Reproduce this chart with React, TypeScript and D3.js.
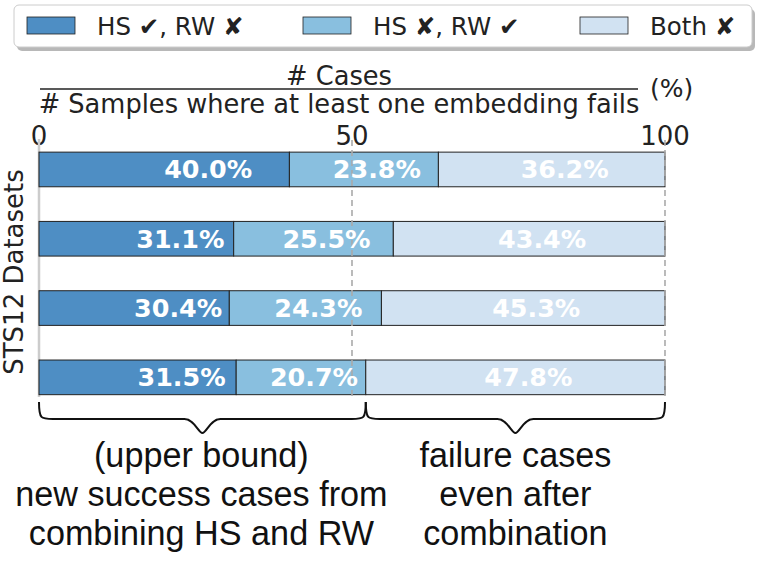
import React from "react";
import * as d3 from "d3";

const rows = ["r1", "r2", "r3", "r4"];
const hsOnly = [40.0, 31.1, 30.4, 31.5];
const rwOnly = [23.8, 25.5, 24.3, 20.7];
const bothFail = [36.2, 43.4, 45.3, 47.8];
const seriesNames = ["HS \u2714, RW \u2718", "HS \u2718, RW \u2714", "Both \u2718"];
const colors = ["#4e8ec4", "#89bfdf", "#d1e2f2"];
const xTicks = [0, 50, 100];
const dashedAt = [50, 100];
const braceLeftText = ["(upper bound)", "new success cases from", "combining HS and RW"];
const braceRightText = ["failure cases", "even after", "combination"];

const W = 761;
const H = 567;
const DV = "'DejaVu Sans', sans-serif";
const HV = "'Liberation Sans', Arial, sans-serif";

function bracePath(x1: number, x2: number, y: number, h: number): string {
  const mid = (x1 + x2) / 2;
  const r = 14;
  const yb = y + h * 0.55;
  return [
    `M${x1},${y}`,
    `C${x1},${yb} ${x1 + 2},${yb} ${x1 + r},${yb}`,
    `L${mid - r - 4},${yb}`,
    `C${mid - 8},${yb} ${mid - 4},${y + h} ${mid},${y + h}`,
    `C${mid + 4},${y + h} ${mid + 8},${yb} ${mid + r + 4},${yb}`,
    `L${x2 - r},${yb}`,
    `C${x2 - 2},${yb} ${x2},${yb} ${x2},${y}`,
  ].join(" ");
}

export default function App() {
  const x = d3.scaleLinear().domain([0, 100]).range([39, 665]);
  const y = d3.scaleBand<string>().domain(rows).range([134.8, 412]).paddingInner(0.5).paddingOuter(0.25);
  const stackData = rows.map((r, i) => ({ row: r, a: hsOnly[i], b: rwOnly[i], c: bothFail[i] }));
  const stack = d3.stack<any>().keys(["a", "b", "c"]);
  const layers = stack(stackData);
  const labelOffsets = [44, 13, 13];

  const lastRow = rows.length - 1;
  const splitVal = 100 - bothFail[lastRow];

  const legendX = [27, 303, 580];

  return (
    <svg width={W} height={H} style={{ position: "absolute", left: 0, top: 0 }}>
      <rect width={W} height={H} fill="#fff" />
      {/* legend */}
      <rect x={17} y={9} width={738} height={42} rx={5} fill="#888" opacity={0.6} />
      <rect x={14} y={5} width={738} height={42} rx={5} fill="#fff" stroke="#ccc" strokeWidth={1} />
      {seriesNames.map((s, i) => (
        <g key={s}>
          <rect x={legendX[i]} y={17} width={48} height={17} fill={colors[i]} stroke="#222" strokeWidth={0.8} />
          <text x={legendX[i] + 70} y={35} fontFamily={DV} fontSize={24.5} fill="#222">
            {s}
          </text>
        </g>
      ))}
      {/* title fraction */}
      <text x={339} y={85} textAnchor="middle" fontFamily={DV} fontSize={25.7} fill="#222">
        # Cases
      </text>
      <line x1={40} x2={638} y1={89} y2={89} stroke="#222" strokeWidth={1.5} />
      <text x={339} y={113} textAnchor="middle" fontFamily={DV} fontSize={25.7} fill="#222">
        # Samples where at least one embedding fails
      </text>
      <text x={650} y={97} fontFamily={DV} fontSize={25} fill="#222">
        (%)
      </text>
      {/* ticks */}
      {xTicks.map((t) => (
        <text key={t} x={x(t)} y={145} textAnchor="middle" fontFamily={DV} fontSize={26} fill="#222">
          {t}
        </text>
      ))}
      {/* left axis line */}
      <line x1={x(0)} x2={x(0)} y1={139} y2={397} stroke="#cccccc" strokeWidth={2.5} />
      {/* bars */}
      {layers.map((layer, li) => (
        <g key={li}>
          {layer.map((d: any, i: number) => (
            <rect
              key={i}
              x={x(d[0])}
              y={y(rows[i])}
              width={x(d[1]) - x(d[0])}
              height={y.bandwidth()}
              fill={colors[li]}
              stroke="#222"
              strokeWidth={1}
            />
          ))}
        </g>
      ))}
      {/* dashed lines */}
      {dashedAt.map((v) => (
        <line key={v} x1={x(v)} x2={x(v)} y1={140} y2={398} stroke="#aaaaaa" strokeWidth={1.6} strokeDasharray="6,4" />
      ))}
      {/* bar labels */}
      {layers.map((layer, li) => (
        <g key={"l" + li}>
          {layer.map((d: any, i: number) => (
            <text
              key={i}
              x={x((d[0] + d[1]) / 2) + labelOffsets[li]}
              y={(y(rows[i]) as number) + y.bandwidth() / 2 + 9}
              textAnchor="middle"
              fontFamily={DV}
              fontWeight="bold"
              fontSize={25.4}
              fill="#fff"
            >
              {(d[1] - d[0]).toFixed(1)}%
            </text>
          ))}
        </g>
      ))}
      {/* y label */}
      <text
        transform={`translate(23,272) rotate(-90)`}
        textAnchor="middle"
        fontFamily={DV}
        fontSize={26}
        fill="#222"
      >
        STS12 Datasets
      </text>
      {/* braces */}
      <path d={bracePath(x(0), x(splitVal), 402, 31)} fill="none" stroke="#111" strokeWidth={2} />
      <path d={bracePath(x(splitVal), x(100), 402, 31)} fill="none" stroke="#111" strokeWidth={2} />
      {braceLeftText.map((t, i) => (
        <text key={t} x={(x(0) + x(splitVal)) / 2 - 1} y={467 + i * 39} textAnchor="middle" fontFamily={HV} fontSize={34.2} fill="#111">
          {t}
        </text>
      ))}
      {braceRightText.map((t, i) => (
        <text key={t} x={(x(splitVal) + x(100)) / 2} y={467 + i * 39} textAnchor="middle" fontFamily={HV} fontSize={34.2} fill="#111">
          {t}
        </text>
      ))}
    </svg>
  );
}
